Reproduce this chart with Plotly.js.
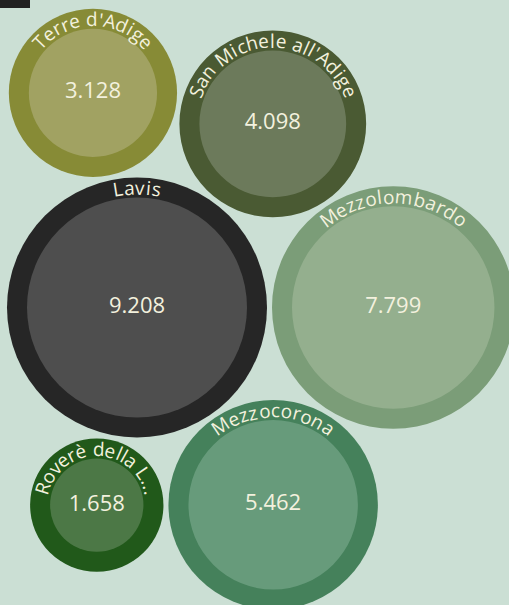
<!DOCTYPE html>
<html><head><meta charset="utf-8">
<script src="https://cdn.plot.ly/plotly-3.0.1.min.js"></script>
<style>html,body{margin:0;padding:0;background:#cbdfd4;}#chart{width:509px;height:605px;}</style>
</head><body><div id="chart"></div>
<script>
// ---- data ----
const municipalities = ["Terre d'Adige", "San Michele all'Adige", "Lavis", "Mezzolombardo", "Roverè della Luna", "Mezzocorona"];
const bubbleLabels = ["Terre d'Adige", "San Michele all'Adige", "Lavis", "Mezzolombardo", "Roverè della L...", "Mezzocorona"];
const residents = [3128, 4098, 9208, 7799, 1658, 5462];
const ringColors = ["#878b36", "#4a5a33", "#262626", "#7b9d78", "#21591a", "#45815b"];
const coreColors = ["#a1a262", "#6c7a5b", "#4e4e4e", "#94af8e", "#4c7846", "#679b7b"];

// ---- styling / layout constants ----
const W = 509, H = 605;
const K = 1.1463, RING = 20, GAP = 5;
const TEXT = "#f3f1de";
const FONT = "Open Sans";
const LABEL_SIZE = 19, LETTER_SP = 1.0, VALUE_SIZE = 22;

const n = residents.length;
const inner = residents.map(v => K * Math.sqrt(v));
const outer = inner.map(r => r + RING);
const id = name => municipalities.indexOf(name);

// ---- simple packing: each bubble tangent (with gap) to two placed ones ----
const pos = new Array(n);
function tangent(a, b, i, side) {
  const A = pos[a], B = pos[b];
  const dA = outer[a] + outer[i] + GAP, dB = outer[b] + outer[i] + GAP;
  const vx = B[0] - A[0], vy = B[1] - A[1];
  const d = Math.hypot(vx, vy);
  const along = (dA * dA - dB * dB + d * d) / (2 * d);
  const h = Math.sqrt(Math.max(0, dA * dA - along * along));
  const ux = vx / d, uy = vy / d;
  const px = -uy * side, py = ux * side;
  pos[i] = [A[0] + ux * along + px * h, A[1] + uy * along + py * h];
}
const L = id("Lavis"), M = id("Mezzolombardo"), S = id("San Michele all'Adige"),
      C = id("Mezzocorona"), T = id("Terre d'Adige"), R = id("Roverè della Luna");
pos[L] = [0, 0];
pos[M] = [outer[L] + outer[M] + GAP, 0];
tangent(L, M, S, -1);
tangent(L, M, C, 1);
tangent(L, S, T, -1);
tangent(L, C, R, 1);

const cx = pos.map(p => p[0]), cy = pos.map(p => p[1]);

// ---- shapes ----
const shapes = [];
for (let i = 0; i < n; i++) {
  shapes.push({type: "circle", xref: "x", yref: "y", layer: "below",
    x0: cx[i] - outer[i], x1: cx[i] + outer[i], y0: cy[i] - outer[i], y1: cy[i] + outer[i],
    fillcolor: ringColors[i], line: {width: 0}});
  shapes.push({type: "circle", xref: "x", yref: "y", layer: "below",
    x0: cx[i] - inner[i], x1: cx[i] + inner[i], y0: cy[i] - inner[i], y1: cy[i] + inner[i],
    fillcolor: coreColors[i], line: {width: 0}});
}
shapes.push({type: "rect", xref: "paper", yref: "paper", x0: 0, x1: 30 / W, y0: 1 - 8 / H, y1: 1,
  fillcolor: "#222222", line: {width: 0}});

// ---- curved labels: one annotation per character ----
const ctx = document.createElement("canvas").getContext("2d");
ctx.font = LABEL_SIZE + "px '" + FONT + "'";
const annotations = [];
for (let i = 0; i < n; i++) {
  const chars = Array.from(bubbleLabels[i]);
  const widths = chars.map(ch => ctx.measureText(ch).width);
  const rad = outer[i] - 10.3;
  const total = widths.reduce((s, w) => s + w, 0) + LETTER_SP * (chars.length - 1);
  let cum = -total / 2;
  chars.forEach((ch, j) => {
    const mid = cum + widths[j] / 2;
    cum += widths[j] + LETTER_SP;
    if (ch === " ") return;
    const th = mid / rad;
    annotations.push({
      x: cx[i] + rad * Math.sin(th), y: cy[i] - rad * Math.cos(th),
      xref: "x", yref: "y", text: ch, showarrow: false,
      xanchor: "center", yanchor: "middle", textangle: th * 180 / Math.PI,
      font: {family: FONT, size: LABEL_SIZE, color: TEXT}, borderpad: 0, borderwidth: 0
    });
  });
}

// ---- value labels ----
const trace = {
  type: "scatter", mode: "text", x: cx, y: cy, customdata: residents,
  texttemplate: "%{customdata:,}", textposition: "middle center",
  textfont: {family: FONT, size: VALUE_SIZE, color: TEXT},
  hoverinfo: "skip", showlegend: false
};

const originX = 137, originY = 307.5;
const layout = {
  width: W, height: H, margin: {l: 0, r: 0, t: 0, b: 0},
  paper_bgcolor: "#cbdfd4", plot_bgcolor: "#cbdfd4",
  separators: ",.",
  xaxis: {range: [-originX, W - originX], visible: false, fixedrange: true},
  yaxis: {range: [H - originY, -originY], visible: false, fixedrange: true},
  shapes: shapes, annotations: annotations, showlegend: false
};
Plotly.newPlot("chart", [trace], layout, {displayModeBar: false, staticPlot: true});
</script></body></html>
